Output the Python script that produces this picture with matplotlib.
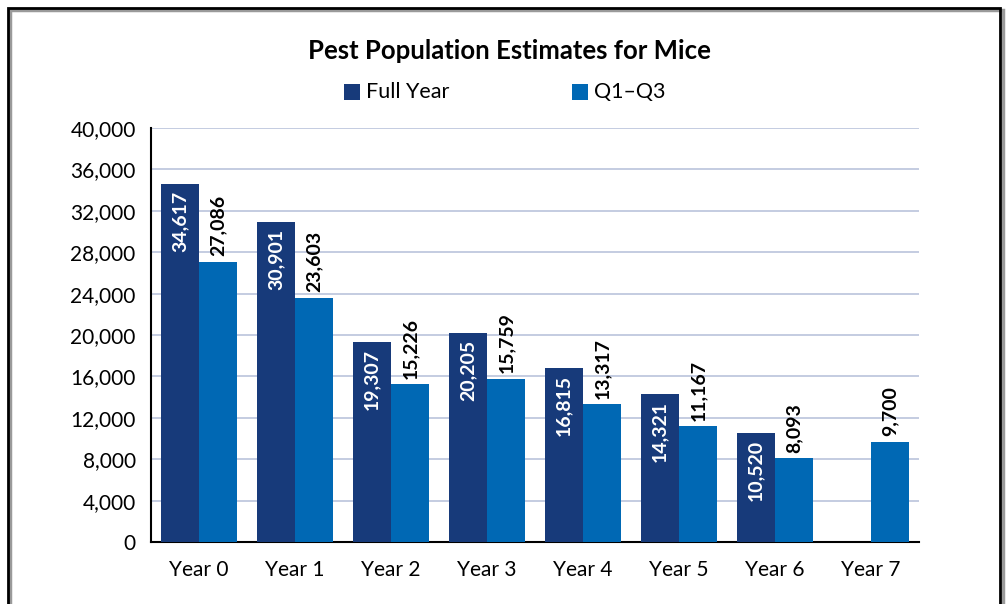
import numpy as np
import matplotlib.pyplot as plt
from matplotlib.patches import Rectangle

years = ["Year 0", "Year 1", "Year 2", "Year 3", "Year 4", "Year 5", "Year 6", "Year 7"]
full_year = [34617, 30901, 19307, 20205, 16815, 14321, 10520, np.nan]
q1_q3 = [27086, 23603, 15226, 15759, 13317, 11167, 8093, 9700]

dark = "#173a7a"
light = "#0068b4"
grid_c = "#bfc8de"

plt.rcParams['font.family'] = ['Lato', 'DejaVu Sans']

fig = plt.figure(figsize=(10.08, 6.04), dpi=100)
W, H = 1008, 604
ax = fig.add_axes([151 / W, 1 - 542 / H, (919 - 151) / W, (542 - 128) / H])

x = np.arange(len(years))
bw = 0.4
ax.bar(x - bw / 2, full_year, bw, color=dark, label="Full Year", zorder=3)
ax.bar(x + bw / 2, q1_q3, bw, color=light, label="Q1\u2013Q3", zorder=3)

for xi, v in zip(x, full_year):
    if np.isnan(v):
        continue
    ax.annotate(f"{int(v):,}", (xi - bw / 2, v), xytext=(0, -5), textcoords="offset points",
                rotation=90, ha="center", va="top", color="white", fontsize=14,
                fontweight="bold", zorder=4)
for xi, v in zip(x, q1_q3):
    ax.annotate(f"{int(v):,}", (xi + bw / 2, v), xytext=(0, 4), textcoords="offset points",
                rotation=90, ha="center", va="bottom", color="black", fontsize=14,
                fontweight="bold", zorder=4)

ax.set_xlim(-0.5, len(years) - 0.5)
ax.set_ylim(0, 40000)
ax.set_yticks(np.arange(0, 40001, 4000))
ax.set_yticklabels([f"{t:,}" for t in range(0, 40001, 4000)], fontsize=15)
ax.set_xticks(x)
ax.set_xticklabels(years, fontsize=15)
ax.tick_params(axis="y", length=0, pad=11)
ax.tick_params(axis="x", length=0, pad=13)
ax.yaxis.grid(True, color=grid_c, linewidth=1.3, zorder=0)
ax.set_axisbelow(True)
for s in ["top", "right"]:
    ax.spines[s].set_visible(False)
ax.spines["left"].set_color("black")
ax.spines["left"].set_linewidth(1.5)
ax.spines["bottom"].set_color("black")
ax.spines["bottom"].set_linewidth(1.5)

fig.text(509 / W, 1 - 51 / H, "Pest Population Estimates for Mice", ha="center", va="center",
         fontsize=18.5, fontweight="bold")

# legend
for lx, txt, c in [(344, "Full Year", dark), (572, "Q1\u2013Q3", light)]:
    fig.patches.append(Rectangle((lx / W, 1 - 100 / H), 16 / W, 16 / H, transform=fig.transFigure,
                                 facecolor=c, edgecolor="none"))
    fig.text((lx + 22) / W, 1 - 92 / H, txt, ha="left", va="center", fontsize=15.5)

# frame with shadow
fig.patches.append(Rectangle((10 / W, -0.05), 993 / W, 1 - 10 / H + 0.05, transform=fig.transFigure,
                             facecolor="none", edgecolor="#9a9a9a", linewidth=2.5, zorder=0))
fig.patches.append(Rectangle((8 / W, -0.05), 992 / W, 1 - 8 / H + 0.05, transform=fig.transFigure,
                             facecolor="none", edgecolor="black", linewidth=2, zorder=1))

fig.savefig("out.png", dpi=100)
